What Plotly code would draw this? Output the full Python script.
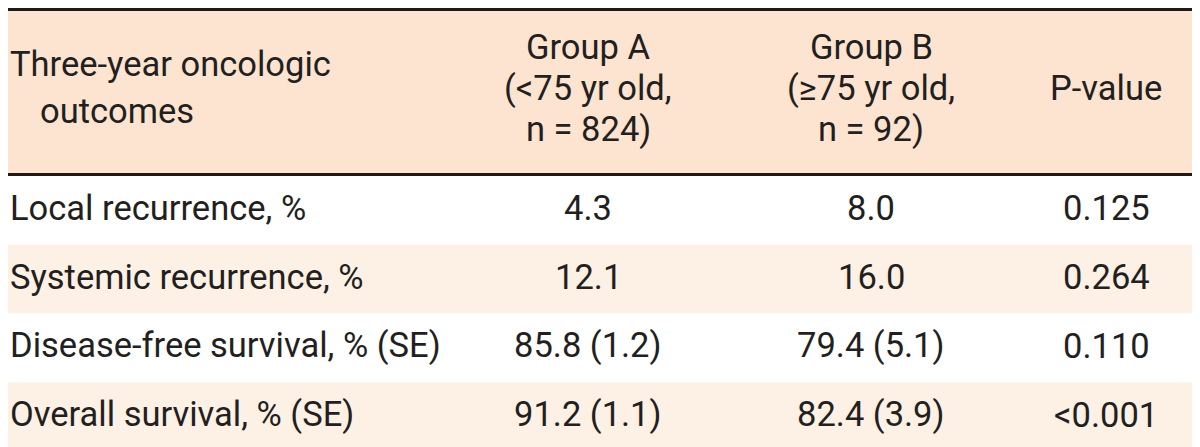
import plotly.graph_objects as go

# ---- data ----
stub_header = ["Three-year oncologic", "outcomes"]
col_headers = [
    ["Group A", "(<75 yr old,", "n = 824)"],
    ["Group B", "(≥75 yr old,", "n = 92)"],
    ["P-value"],
]
outcomes = [
    "Local recurrence, %",
    "Systemic recurrence, %",
    "Disease-free survival, % (SE)",
    "Overall survival, % (SE)",
]
group_a = ["4.3", "12.1", "85.8 (1.2)", "91.2 (1.1)"]
group_b = ["8.0", "16.0", "79.4 (5.1)", "82.4 (3.9)"]
p_values = ["0.125", "0.264", "0.110", "<0.001"]

# ---- style / layout ----
W, H = 1200, 447
FONT = "Roboto, Liberation Sans, sans-serif"
FS = 34.5
TXT = "#231f20"
HEADER_BG = "#fde4d0"
ALT_BG = "#fdf1e6"
RULE = "#231815"
header_bottom = 168
row_h = (443 - header_bottom) / 4
col_x = [580, 863, 1098]
stub_x = 2
BODY_DY = -2  # visual centring offset for body text


def esc(s):
    return s.replace("<", "&lt;")


shapes = []
annotations = []

# header background
shapes.append(dict(type="rect", x0=0, x1=W, y0=0, y1=header_bottom, fillcolor=HEADER_BG,
                   line_width=0, layer="below"))
# body rows
for i in range(len(outcomes)):
    y0 = header_bottom + i * row_h
    shapes.append(dict(type="rect", x0=0, x1=W, y0=y0, y1=y0 + row_h,
                       fillcolor=ALT_BG if i % 2 == 1 else "#ffffff", line_width=0, layer="below"))
# rules
shapes.append(dict(type="line", x0=0, x1=W, y0=1.5, y1=1.5, line=dict(color=RULE, width=3)))
shapes.append(dict(type="line", x0=0, x1=W, y0=166.5, y1=166.5, line=dict(color=RULE, width=3)))
shapes.append(dict(type="line", x0=0, x1=W, y0=445, y1=445, line=dict(color=RULE, width=4)))


def add_text(x, y, text, anchor="center"):
    annotations.append(dict(x=x, y=y, xref="x", yref="y", text=esc(text), showarrow=False,
                            xanchor=anchor, yanchor="middle", borderpad=0, borderwidth=0,
                            font=dict(family=FONT, size=FS, color=TXT)))


# stub header
add_text(stub_x, 56, stub_header[0], "left")
add_text(stub_x + 30, 103, stub_header[1], "left")

# column headers
line_y3 = [39, 80, 121]
for cx, lines in zip(col_x, col_headers):
    if len(lines) == 1:
        add_text(cx, 80, lines[0])
    else:
        for ly, t in zip(line_y3, lines):
            add_text(cx, ly, t)

# body
for i, name in enumerate(outcomes):
    cy = header_bottom + (i + 0.5) * row_h + BODY_DY
    add_text(stub_x, cy, name, "left")
    add_text(col_x[0], cy, group_a[i])
    add_text(col_x[1], cy, group_b[i])
    add_text(col_x[2], cy, p_values[i])

fig = go.Figure()
fig.add_trace(go.Scatter(x=[0, W], y=[0, H], mode="markers", marker=dict(opacity=0),
                         hoverinfo="skip", showlegend=False))
fig.update_layout(
    width=W, height=H, margin=dict(l=0, r=0, t=0, b=0),
    paper_bgcolor="#ffffff", plot_bgcolor="#ffffff",
    xaxis=dict(range=[0, W], visible=False, fixedrange=True),
    yaxis=dict(range=[H, 0], visible=False, fixedrange=True),
    shapes=shapes, annotations=annotations, showlegend=False,
)
fig.write_html("out.html")
